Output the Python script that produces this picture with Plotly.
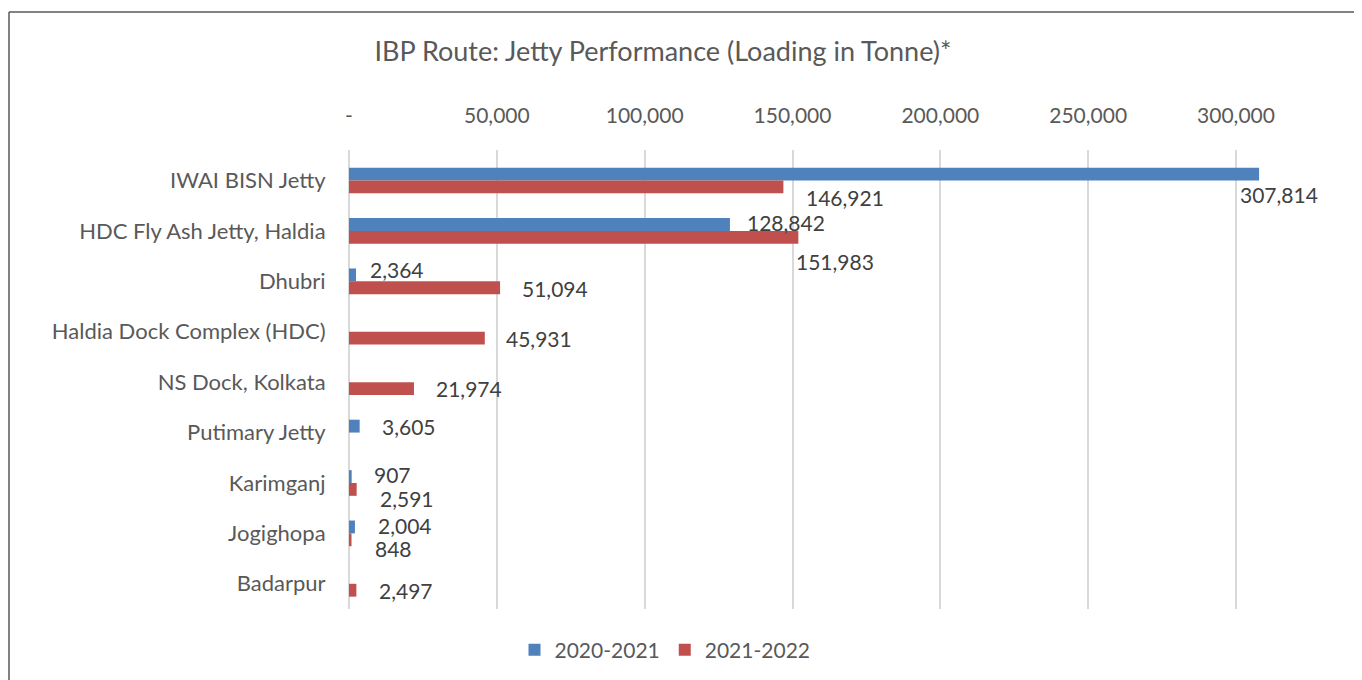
import plotly.graph_objects as go

# ---- data ----
categories = ["IWAI BISN Jetty", "HDC Fly Ash Jetty, Haldia", "Dhubri",
              "Haldia Dock Complex (HDC)", "NS Dock, Kolkata", "Putimary Jetty",
              "Karimganj", "Jogighopa", "Badarpur"]
series_names = ["2020-2021", "2021-2022"]
loading_2020_21 = [307814, 128842, 2364, None, None, 3605, 907, 2004, None]
loading_2021_22 = [146921, 151983, 51094, 45931, 21974, None, 2591, 848, 2497]
tick_values = [0, 50000, 100000, 150000, 200000, 250000, 300000]
tick_labels = ["-", "50,000", "100,000", "150,000", "200,000", "250,000", "300,000"]

# ---- label placement offsets (px) ----
blue_dx = [-20, 16, 13, 0, 0, 21, 21, 22, 0]
blue_dy = [-14, 8, 12, 0, 0, 6.5, 8, 8, 0]
red_dx = [22, -3, 21, 20, 21, 0, 22, 22, 22]
red_dy = [-17, -31, -7.5, -7, -6.5, 0, -15.5, -15.5, -6.5]

BLUE = "#4F81BD"
RED = "#C0504D"
FONT = "Lato"

OFF = 8  # page body margin
W, H = 1362 - OFF, 680 - OFF
L, R, T, B = 349 - OFF, 0, 150 - OFF, 71
PW, PH = W - L - R, H - T - B
X_MAX = 300000 * PW / 887.0

fig = go.Figure()
fig.add_trace(go.Bar(y=categories, x=loading_2020_21, orientation="h", name=series_names[0],
                     marker=dict(color=BLUE, line=dict(width=0))))
fig.add_trace(go.Bar(y=categories, x=loading_2021_22, orientation="h", name=series_names[1],
                     marker=dict(color=RED, line=dict(width=0))))

annotations = []
for vals, dxs, dys in ((loading_2020_21, blue_dx, blue_dy), (loading_2021_22, red_dx, red_dy)):
    for cat, v, dx, dy in zip(categories, vals, dxs, dys):
        if v is None:
            continue
        annotations.append(dict(x=v, y=cat, xref="x", yref="y", text=f"{v:,}",
                                showarrow=False, xanchor="left", yanchor="middle",
                                xshift=dx, yshift=dy, borderpad=0,
                                font=dict(family=FONT, size=21, color="#404040")))

def px_x(p):
    return (p - OFF - L) / PW

def px_y(p):
    return 1 - (p - OFF - T) / PH

shapes = [
    dict(type="line", xref="paper", yref="paper", x0=px_x(9), x1=px_x(9), y0=px_y(12), y1=px_y(720),
         line=dict(color="#595959", width=1.5)),
    dict(type="line", xref="paper", yref="paper", x0=px_x(9), x1=px_x(1420), y0=px_y(12), y1=px_y(12),
         line=dict(color="#595959", width=1.5)),
]

fig.update_layout(
    width=W, height=H,
    margin=dict(l=L, r=R, t=T, b=B, autoexpand=False),
    paper_bgcolor="white", plot_bgcolor="white",
    font=dict(family=FONT, size=21, color="#595959"),
    title=dict(text="IBP Route: Jetty Performance (Loading in Tonne)*",
               x=(663 - OFF) / W, xref="container", xanchor="center",
               y=1 - (52 - OFF) / H, yref="container", yanchor="middle",
               font=dict(family=FONT, size=27, color="#595959")),
    barmode="group", bargap=0.49, bargroupgap=0,
    legend=dict(orientation="h", xref="container", yref="container",
                x=(665 - OFF) / W, xanchor="center", y=1 - (650 - OFF) / H, yanchor="middle",
                font=dict(family=FONT, size=21, color="#595959"),
                itemwidth=30, traceorder="normal"),
    annotations=annotations,
    shapes=shapes,
)
fig.update_xaxes(side="top", range=[0, X_MAX], tickvals=tick_values, ticktext=tick_labels,
                 showgrid=True, gridcolor="#D9D9D9", gridwidth=1.5,
                 zeroline=True, zerolinecolor="#D9D9D9", zerolinewidth=1.5,
                 ticks="outside", ticklen=18, tickcolor="rgba(0,0,0,0)",
                 showline=False, fixedrange=True)
fig.update_yaxes(autorange="reversed", showgrid=False, zeroline=False, showline=False,
                 ticks="outside", ticklen=18, tickcolor="rgba(0,0,0,0)",
                 tickfont=dict(family=FONT, size=22, color="#595959"),
                 categoryorder="array", categoryarray=categories, fixedrange=True)

fig.write_html("out.html")
